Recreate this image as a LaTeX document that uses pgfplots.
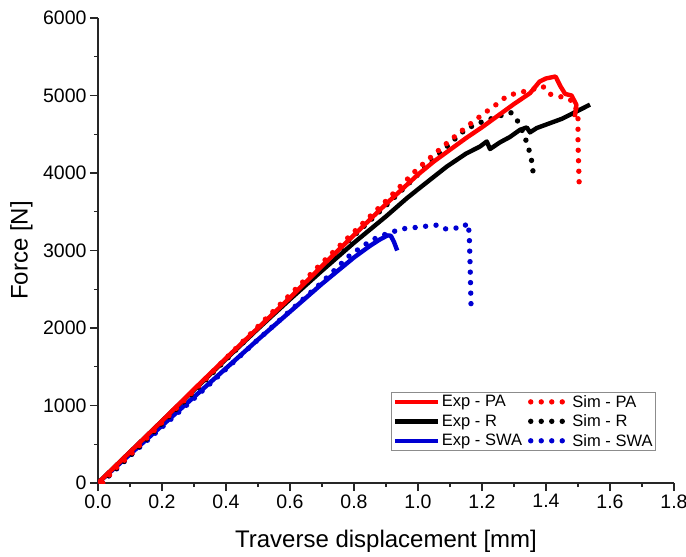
\documentclass[border=0pt]{standalone}
\usepackage{fontspec}
\setmainfont{Liberation Sans}
\usepackage{pgfplots}
\pgfplotsset{compat=1.18}

\definecolor{cred}{RGB}{255,0,0}
\definecolor{cblack}{RGB}{0,0,0}
\definecolor{cblue}{RGB}{0,0,210}

\pgfplotsset{
  expline/.style={line width=4.4pt, line join=round,
    legend image code/.code={\draw[##1] (0pt,0pt) -- (43pt,0pt);}},
  simline/.style={line width=5.4pt, line cap=round, dash pattern=on 0pt off 10.5pt,
    legend image code/.code={\draw[##1] (4pt,0pt) -- (35.5pt,0pt);
      \node[inner sep=0pt, minimum size=0pt] at (41pt,0pt) {};}},
}

\begin{document}
\begin{tikzpicture}
\begin{axis}[
  scale only axis,
  width=576pt, height=465pt,
  xmin=0, xmax=1.8, ymin=0, ymax=6000,
  axis x line*=bottom, axis y line*=left,
  axis line style={line width=1.3pt, black!85},
  xtick={0,0.2,0.4,0.6,0.8,1.0,1.2,1.4,1.6,1.8},
  ytick={0,1000,2000,3000,4000,5000,6000},
  minor x tick num=1, minor y tick num=1,
  tick align=outside, major tick length=8pt, minor tick length=4pt,
  every tick/.style={line width=1.3pt, black!85},
  scaled y ticks=false,
  /pgf/number format/assume math mode=true,
  /pgf/number format/1000 sep={},
  ticklabel style={font=\fontsize{19.5}{22}\selectfont},
  xticklabel style={/pgf/number format/.cd, fixed, fixed zerofill, precision=1},
  xlabel={Traverse displacement [mm]},
  ylabel={Force [N]},
  every axis x label/.style={at={(axis description cs:0.5,-0.125)}, anchor=center},
  every axis y label/.style={at={(axis description cs:-0.133,0.5)}, rotate=90, anchor=center},
  label style={font=\fontsize{24}{28}\selectfont},
  legend columns=2, reverse legend,
  legend cell align=left,
  legend style={at={(0.509,0.069)}, anchor=south west, draw=black!45, line width=0.8pt,
    font=\fontsize{16.5}{19}\selectfont, inner sep=1pt, row sep=2pt,
    /tikz/every even column/.append style={column sep=4pt}},
]
% drawn bottom to top; the legend is reversed
\addplot[simline, color=cblue] coordinates {
(0.01,0) (0.05,150) (0.1,350) (0.2,720) (0.3,1090) (0.4,1470) (0.5,1850) (0.6,2220)
(0.7,2590) (0.7875,2940) (0.855,3134) (0.89,3199) (0.9125,3225) (0.944,3277)
(0.975,3290) (1.006,3303) (1.03,3316) (1.0625,3329) (1.0875,3277) (1.1125,3290)
(1.1375,3290) (1.156,3355) (1.16,3225) (1.163,2800) (1.166,2228)};
\addplot[expline, color=cblue] coordinates {
(0,0) (0.1,370) (0.2,740) (0.3,1110) (0.4,1480) (0.5,1850) (0.6,2210) (0.7,2570)
(0.8,2910) (0.85,3060) (0.88,3140) (0.905,3195) (0.915,3190) (0.925,3110) (0.935,3000)};
\addplot[simline, color=cblack] coordinates {
(0.01,0) (0.05,160) (0.1,350) (0.2,770) (0.3,1180) (0.4,1590) (0.5,2000) (0.6,2400)
(0.7,2800) (0.8,3190) (0.9,3580) (1.0,3980) (1.1,4380) (1.15,4570) (1.2,4660)
(1.25,4730) (1.29,4780) (1.31,4680) (1.33,4510) (1.345,4330) (1.355,4160) (1.36,4000)};
\addplot[expline, color=cblack] coordinates {
(0,0) (0.1,400) (0.2,800) (0.3,1200) (0.4,1600) (0.5,1990) (0.6,2370) (0.7,2740)
(0.8,3100) (0.9,3440) (0.965,3674) (1.0,3790) (1.09,4083) (1.15,4250) (1.194,4342)
(1.215,4407) (1.225,4309) (1.256,4395) (1.287,4464) (1.319,4558) (1.34,4588)
(1.35,4524) (1.371,4580) (1.45,4700) (1.5375,4882)};
\addplot[simline, color=cred] coordinates {
(0.015,0) (0.05,170) (0.1,360) (0.2,780) (0.3,1190) (0.4,1610) (0.5,2020) (0.6,2430)
(0.7,2840) (0.8,3240) (0.9,3640) (1.0,4060) (1.1,4420) (1.15,4590) (1.2,4750)
(1.25,4900) (1.28,5000) (1.32,5040) (1.36,5080) (1.39,5120) (1.41,5020) (1.44,4990)
(1.47,4960) (1.49,4900) (1.5,4720) (1.5,4400) (1.502,4100) (1.504,3820)};
\addplot[expline, color=cred] coordinates {
(0,0) (0.1,400) (0.2,800) (0.3,1210) (0.4,1610) (0.5,2000) (0.6,2390) (0.7,2800)
(0.8,3200) (0.9,3600) (1.0,3980) (1.05,4150) (1.1,4300) (1.15,4450) (1.2,4590)
(1.25,4740) (1.3,4890) (1.35,5030) (1.38,5180) (1.40,5220) (1.43,5245) (1.445,5120)
(1.46,5020) (1.48,5000) (1.495,4880) (1.49,4720)};
\legend{Sim - SWA, Exp - SWA, Sim - R, Exp - R, Sim - PA, Exp - PA}
\end{axis}
\pgfresetboundingbox
\path[use as bounding box] ([shift={(-98pt,-74pt)}]current axis.south west)
  rectangle ([shift={(12pt,18pt)}]current axis.north east);
\end{tikzpicture}
\end{document}
